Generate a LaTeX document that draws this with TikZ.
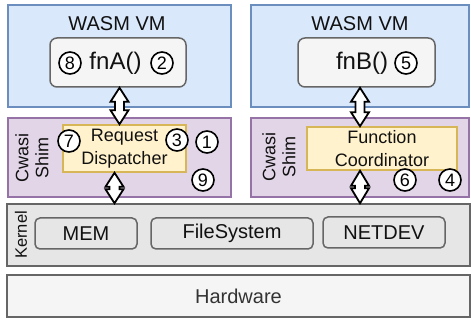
\documentclass[tikz,border=0pt]{standalone}
\usepackage{fontspec}
\setmainfont{Liberation Sans}
\usetikzlibrary{calc}
\definecolor{vmfill}{HTML}{DAE8FC}
\definecolor{vmdraw}{HTML}{6C8EBF}
\definecolor{shimfill}{HTML}{E1D5E7}
\definecolor{shimdraw}{HTML}{9673A6}
\definecolor{yfill}{HTML}{FFF2CC}
\definecolor{ydraw}{HTML}{D6B656}
\definecolor{kfill}{HTML}{E6E6E6}
\definecolor{kdraw}{HTML}{666666}
\definecolor{lfill}{HTML}{F5F5F5}
\definecolor{txtc}{HTML}{111111}
\newcommand{\fsz}[2]{\fontsize{#1}{#2}\selectfont}
\newcommand{\dblarrow}[5]{%
  \draw[hollowarrow] let \p1=(#1), \p2=(#2) in
  (\x1,\y1) -- (\x1+#3,\y1-#4) -- (\x1+#5,\y1-#4) -- (\x1+#5,\y2+#4) -- (\x1+#3,\y2+#4)
  -- (\x1,\y2) -- (\x1-#3,\y2+#4) -- (\x1-#5,\y2+#4) -- (\x1-#5,\y1-#4) -- (\x1-#3,\y1-#4) -- cycle;}
\begin{document}
\begin{tikzpicture}[x=1pt,y=-1pt,
  box/.style={inner sep=0pt, line width=1.5pt, text=txtc, align=center},
  vmbox/.style={box, draw=vmdraw, fill=vmfill},
  shimbox/.style={box, draw=shimdraw, fill=shimfill},
  ybox/.style={box, draw=ydraw, fill=yfill, font=\fsz{18}{23}},
  kbox/.style={box, draw=kdraw, fill=kfill},
  hwbox/.style={box, draw=kdraw, fill=lfill},
  fnbox/.style={box, draw=kdraw, fill=lfill, rounded corners=7pt},
  devbox/.style={box, draw=kdraw, fill=kfill, rounded corners=5pt, font=\fsz{20}{24}},
  txt/.style={inner sep=0pt, text=txtc, align=center},
  num/.style={circle, draw=black, fill=white, line width=1.6pt, inner sep=0pt, minimum size=22pt, font=\fsz{18}{20}},
  sidelabel/.style={txt, rotate=90, font=\fsz{18}{20}},
  hollowarrow/.style={draw=black, fill=white, line width=1.8pt, line join=miter}]
\useasboundingbox (0,0) rectangle (471,320);

% WASM VMs
\node[vmbox, minimum width=223pt, minimum height=102pt] (vmA) at (119.5,56) {};
\node[vmbox, minimum width=218pt, minimum height=102pt] (vmB) at (360,56) {};
\node[txt, font=\fsz{20}{24}] (vmAt) at (117,24) {WASM VM};
\node[txt, font=\fsz{20}{24}] (vmBt) at (360,24) {WASM VM};
\node[fnbox, minimum width=136pt, minimum height=49pt] (fnA) at (118,62.5) {};
\node[fnbox, minimum width=137pt, minimum height=49pt] (fnB) at (366.5,62.5) {};
\node[txt, font=\fsz{24}{28}] (fnAt) at (115.5,63) {fnA()};
\node[txt, font=\fsz{24}{28}] (fnBt) at (362,63) {fnB()};
\node[num] (n8) at (70,63) {8};
\node[num] (n2) at (162,63) {2};
\node[num] (n5) at (406,63) {5};

% Shims
\node[shimbox, minimum width=223pt, minimum height=79pt] (shimA) at (119.5,157.5) {};
\node[shimbox, minimum width=218pt, minimum height=79pt] (shimB) at (360,157.5) {};
\node[sidelabel] (shimAt) at (32,158) {Cwasi\\Shim};
\node[sidelabel] (shimBt) at (279,157) {Cwasi\\Shim};
\node[ybox, minimum width=123pt, minimum height=47pt] (disp) at (124.5,148.5) {Request\\Dispatcher};
\node[ybox, minimum width=150pt, minimum height=43pt] (coord) at (382,148.5) {Function\\Coordinator};
\node[num] (n7) at (69,141) {7};
\node[num] (n3) at (177,140) {3};
\node[num] (n1) at (207,142) {1};
\node[num] (n9) at (203,180) {9};
\node[num] (n6) at (405,180) {6};
\node[num] (n4) at (450,180) {4};

% Kernel
\node[kbox, minimum width=463pt, minimum height=62pt] (kernel) at (238.5,235) {};
\node[sidelabel, font=\fsz{16.5}{20}] (kernelt) at (21,235) {Kernel};
\node[devbox, minimum width=102pt, minimum height=31pt] (mem) at (86,233.5) {MEM};
\node[devbox, minimum width=162pt, minimum height=31pt] (fs) at (232,233.5) {FileSystem};
\node[devbox, minimum width=122pt, minimum height=31pt] (net) at (384,232.5) {NETDEV};

% Hardware
\node[hwbox, minimum width=463pt, minimum height=42pt, text=black!80, font=\fsz{20}{24}] (hw) at (238.5,296) {Hardware};

% Arrows
\coordinate (a1t) at (fnA.south -| vmA.south);
\coordinate (a2t) at ([xshift=-5pt]disp.south -| vmA.south);
\coordinate (a3t) at (fnB.south -| vmB.south);
\coordinate (a4t) at (coord.south -| vmB.south);
\dblarrow{a1t}{disp.north}{9pt}{14pt}{4.5pt}
\dblarrow{a2t}{kernel.north}{9pt}{14pt}{5pt}
\dblarrow{a3t}{coord.north}{9pt}{14pt}{4.5pt}
\dblarrow{a4t}{kernel.north}{9pt}{15pt}{5pt}
\end{tikzpicture}
\end{document}
